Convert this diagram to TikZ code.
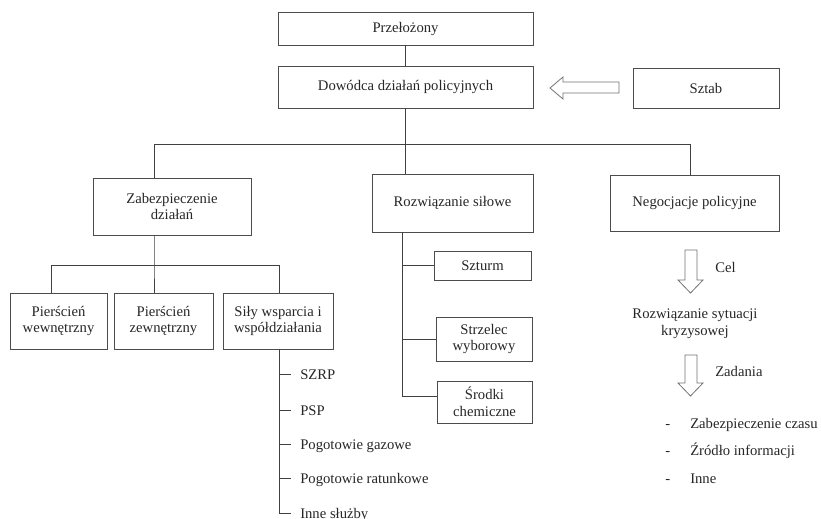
\documentclass[tikz,border=0pt]{standalone}
\usepackage{fontspec}
\setmainfont{Liberation Serif}

\begin{document}
\begin{tikzpicture}[x=0.75pt,y=-0.75pt,
    box/.style 2 args={draw=black!70, line width=0.7pt, align=center, inner sep=0pt,
        minimum width=#1*0.75pt, minimum height=#2*0.75pt},
    link/.style={draw=black!75, line width=0.7pt},
    item/.style={inner sep=0pt, anchor=base west},
    hollow/.style={draw=black!55, fill=white, line width=0.6pt},
    every node/.style={font=\fontsize{11}{12.7}\selectfont, text=black!85}]
    \useasboundingbox (0,0) rectangle (821,518);

    % top of the chain
    \node[box={255}{33}] (przel) at (405.5,28.5) {Przełożony};
    \node[box={255}{42}] (dowodca) at (405.5,87) {Dowódca działań policyjnych};
    \node[box={146}{40}] (sztab) at (706,88) {Sztab};
    \draw[hollow] (550,88) -- (563,77) -- (563,82) -- (619,82) -- (619,93) -- (563,93) -- (563,99) -- cycle;

    % three branches
    \node[box={158}{57}] (zabezp) at (172,206.5) {Zabezpieczenie\\działań};
    \node[box={161}{58}] (rozw) at (452.5,203) {Rozwiązanie siłowe};
    \node[box={169}{56}] (negoc) at (694.5,203) {Negocjacje policyjne};

    \coordinate (busL) at (154,144);
    \coordinate (busR) at (690,144);
    \draw[link] (przel) -- (dowodca);
    \draw[link] (dowodca.south) -- (rozw.north -| dowodca.south);
    \draw[link] (zabezp.north -| busL) -- (busL) -- (busR) -- (negoc.north -| busR);

    % Zabezpieczenie dzialan
    \node[box={97}{56}] (pwew) at (58.5,321) {Pierścień\\wewnętrzny};
    \node[box={99}{56}] (pzew) at (163.5,321) {Pierścień\\zewnętrzny};
    \node[box={110}{56}] (sily) at (278,321) {Siły wsparcia i\\współdziałania};

    \coordinate (sub) at (154,265);
    \coordinate (subL) at (51,265);
    \coordinate (subR) at (279,265);
    \draw[link] (zabezp.south -| sub) -- (sub) -- (pzew.north -| sub);
    \draw[link] (pwew.north -| subL) -- (subL) -- (subR) -- (sily.north -| subR);

    \coordinate (silyB) at (279,513);
    \draw[link] (sily.south -| silyB) -- (silyB);
    \foreach \y/\t/\n in {374/SZRP/szrp, 410/PSP/psp, 444/Pogotowie gazowe/gaz,
                          478/Pogotowie ratunkowe/ratunk, 513/Inne służby/inne}{
        \node[item] (\n) at (300,\y+5) {\t};
        \draw[link] (silyB |- 0,\y) -- ++(12,0);
    }

    % Rozwiazanie silowe
    \node[box={97}{29}] (szturm) at (482.5,265.5) {Szturm};
    \node[box={96}{44}] (strzelec) at (484,339) {Strzelec\\wyborowy};
    \node[box={95}{42}] (srodki) at (484.5,402) {Środki\\chemiczne};

    \coordinate (rozwB) at (402,396);
    \draw[link] (rozw.south -| rozwB) -- (rozwB) -- (srodki.west |- rozwB);
    \draw[link] (rozw.south -| rozwB) |- (szturm.west);
    \draw[link] (rozw.south -| rozwB) |- (strzelec.west);

    % Negocjacje policyjne
    \foreach \t/\h in {250/280, 355/383}
        \draw[hollow] (685,\t) -- (697,\t) -- (697,\h) -- (703,\h) -- (690.5,\h+13)
            -- (678,\h) -- (685,\h) -- cycle;
    \node[item] (cel) at (715,272) {Cel};
    \node[align=center] (sytuacja) at (695,324) {Rozwiązanie sytuacji\\kryzysowej};
    \node[item] (zadania) at (715,376) {Zadania};
    \foreach \y/\t/\n in {428/Zabezpieczenie czasu/czas, 455/Źródło informacji/zrodlo, 483/Inne/inneN}{
        \node[item] (\n) at (690,\y) {\t};
        \node[item] (\n-d) at (665,\y) {-};
    }
\end{tikzpicture}
\end{document}
